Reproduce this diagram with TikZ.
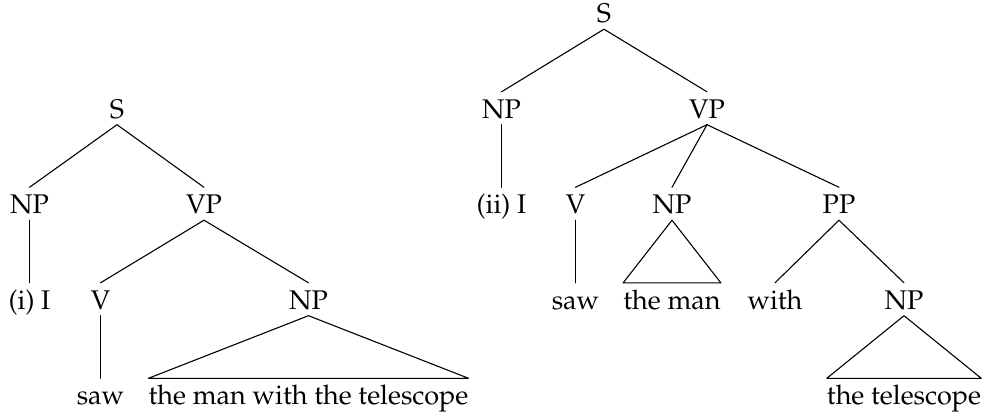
\documentclass[tikz,border=0pt]{standalone}
\usepackage[T1]{fontenc}
\IfFileExists{mathpazo.sty}{\usepackage{mathpazo}}{\IfFileExists{palatino.sty}{\usepackage{palatino}}{}}
\begin{document}
\begin{tikzpicture}[x=1pt,y=-1pt,
  lbl/.style={anchor=base,inner sep=0pt,text height=26pt,text depth=6.5pt,font=\fontsize{27}{32}\selectfont},
  edge/.style={line width=1.1pt,line cap=round,line join=round}]
\useasboundingbox (0,0) rectangle (984,416);
% levels
\def\La{22.5}\def\Lb{118}\def\Lc{213.5}\def\Ld{309}\def\Le{404.5}
% ---- left tree
\node[lbl] (lS) at (117,\Lb) {S};
\node[lbl] (lNP) at (29.5,\Lc) {NP};
\node[lbl] (lVP) at (204,\Lc) {VP};
\node[lbl] (lI) at (29.5,\Ld) {(i) I};
\node[lbl] (lV) at (100.5,\Ld) {V};
\node[lbl] (lNP2) at (308.5,\Ld) {NP};
\node[lbl] (lsaw) at (100.5,\Le) {saw};
\node[lbl] (lobj) at (308.5,\Le) {the man with the telescope};
\draw[edge] (lS.south) -- (lNP.north);
\draw[edge] (lS.south) -- (lVP.north);
\draw[edge] (lNP.south) -- (lI.north);
\draw[edge] (lVP.south) -- (lV.north);
\draw[edge] (lVP.south) -- (lNP2.north);
\draw[edge] (lV.south) -- (lsaw.north);
\draw[edge] (lNP2.south) -- (lobj.north west) -- (lobj.north east) -- cycle;
% ---- right tree
\node[lbl] (rS) at (604,\La) {S};
\node[lbl] (rNP) at (501.5,\Lb) {NP};
\node[lbl] (rVP) at (707,\Lb) {VP};
\node[lbl] (rI) at (501.5,\Lc) {(ii) I};
\node[lbl] (rV) at (575.5,\Lc) {V};
\node[lbl] (rNP2) at (672,\Lc) {NP};
\node[lbl] (rPP) at (839,\Lc) {PP};
\node[lbl] (rsaw) at (575.5,\Ld) {saw};
\node[lbl] (rman) at (672,\Ld) {the man};
\node[lbl] (rwith) at (775,\Ld) {with};
\node[lbl] (rNP3) at (904,\Ld) {NP};
\node[lbl] (rtel) at (904,\Le) {the telescope};
\draw[edge] (rS.south) -- (rNP.north);
\draw[edge] (rS.south) -- (rVP.north);
\draw[edge] (rNP.south) -- (rI.north);
\draw[edge] (rVP.south) -- (rV.north);
\draw[edge] (rVP.south) -- (rNP2.north);
\draw[edge] (rVP.south) -- (rPP.north);
\draw[edge] (rV.south) -- (rsaw.north);
\draw[edge] (rNP2.south) -- (rman.north west) -- (rman.north east) -- cycle;
\draw[edge] (rPP.south) -- (rwith.north);
\draw[edge] (rPP.south) -- (rNP3.north);
\draw[edge] (rNP3.south) -- (rtel.north west) -- (rtel.north east) -- cycle;
\end{tikzpicture}
\end{document}
